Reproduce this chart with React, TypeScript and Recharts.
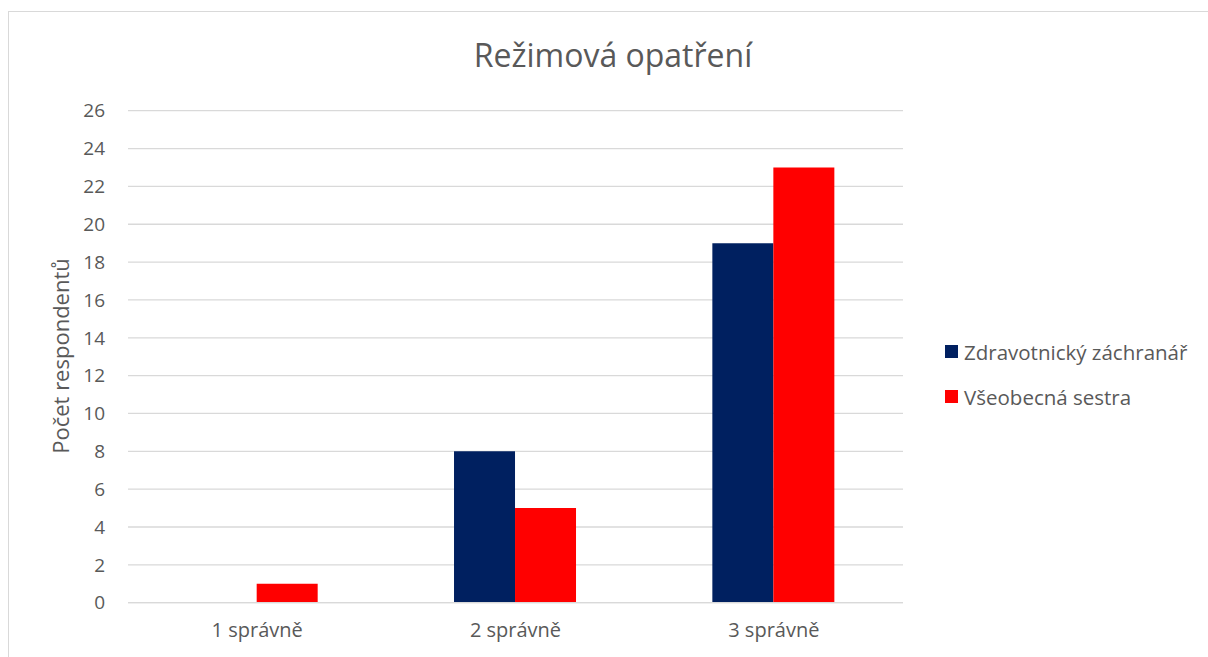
import React from "react";
import { BarChart, Bar, XAxis, YAxis, CartesianGrid, Legend } from "recharts";

const categories = ["1 správně", "2 správně", "3 správně"];
const zachranar = [0, 8, 19];
const sestra = [1, 5, 23];
const yTicks = [0, 2, 4, 6, 8, 10, 12, 14, 16, 18, 20, 22, 24, 26];
const seriesNames = ["Zdravotnický záchranář", "Všeobecná sestra"];
const seriesColors = ["#002060", "#FF0000"];

const data = categories.map((c, i) => ({ name: c, a: zachranar[i], b: sestra[i] }));

const FONT = "'Open Sans', sans-serif";
const TEXT = "#595959";

const LegendContent = () => {
  return (
    <div style={{ fontFamily: FONT }}>
      {seriesNames.map((n, i) => (
        <div key={i} style={{ display: "flex", alignItems: "center", height: 45 }}>
          <div style={{ width: 13, height: 13, background: seriesColors[i], marginRight: 6, flexShrink: 0 }} />
          <span style={{ fontSize: 20.5, color: TEXT, whiteSpace: "nowrap" }}>{n}</span>
        </div>
      ))}
    </div>
  );
};

export default function App() {
  return (
    <div
      style={{
        position: "absolute",
        left: 8,
        top: 11,
        width: 1200,
        height: 646,
        borderLeft: "1px solid #d9d9d9",
        borderTop: "1px solid #d9d9d9",
        boxSizing: "border-box",
        background: "#fff",
      }}
    >
      <div
        style={{
          position: "absolute",
          left: -1,
          top: -1,
          width: 1200,
          height: 646,
        }}
      >
        <BarChart
          width={1200}
          height={646}
          data={data}
          margin={{ top: 99.7, right: 305, bottom: 14.3, left: 0 }}
          barCategoryGap="26.2%"
          barGap={0}
        >
          <CartesianGrid vertical={false} stroke="#d9d9d9" strokeWidth={1.3} />
          <XAxis
            dataKey="name"
            axisLine={{ stroke: "#d9d9d9", strokeWidth: 1.3 }}
            tickLine={false}
            tickSize={0}
            tickMargin={20}
            height={40}
            tick={{ fill: TEXT, fontSize: 20, fontFamily: FONT }}
          />
          <YAxis
            domain={[0, 26]}
            ticks={yTicks}
            interval={0}
            width={120}
            axisLine={false}
            tickLine={false}
            tickSize={0}
            tickMargin={23}
            tick={{ fill: TEXT, fontSize: 19, fontFamily: FONT }}
          />
          <Legend
            layout="vertical"
            verticalAlign="middle"
            align="center"
            wrapperStyle={{ left: 937, top: 318, width: 262 }}
            content={<LegendContent />}
          />
          <Bar dataKey="a" name={seriesNames[0]} fill={seriesColors[0]} isAnimationActive={false} />
          <Bar dataKey="b" name={seriesNames[1]} fill={seriesColors[1]} isAnimationActive={false} />
        </BarChart>
      </div>
      <div
        style={{
          position: "absolute",
          left: 0,
          width: 1208,
          top: 23,
          textAlign: "center",
          fontFamily: FONT,
          fontSize: 32,
          color: TEXT,
          lineHeight: "40px",
        }}
      >
        Režimová opatření
      </div>
      <div
        style={{
          position: "absolute",
          left: 51,
          top: 344,
          width: 0,
          height: 0,
        }}
      >
        <div
          style={{
            position: "absolute",
            transform: "translate(-50%, -50%) rotate(-90deg)",
            whiteSpace: "nowrap",
            fontFamily: FONT,
            fontSize: 22,
            color: TEXT,
            lineHeight: "26px",
          }}
        >
          Počet respondentů
        </div>
      </div>
    </div>
  );
}
